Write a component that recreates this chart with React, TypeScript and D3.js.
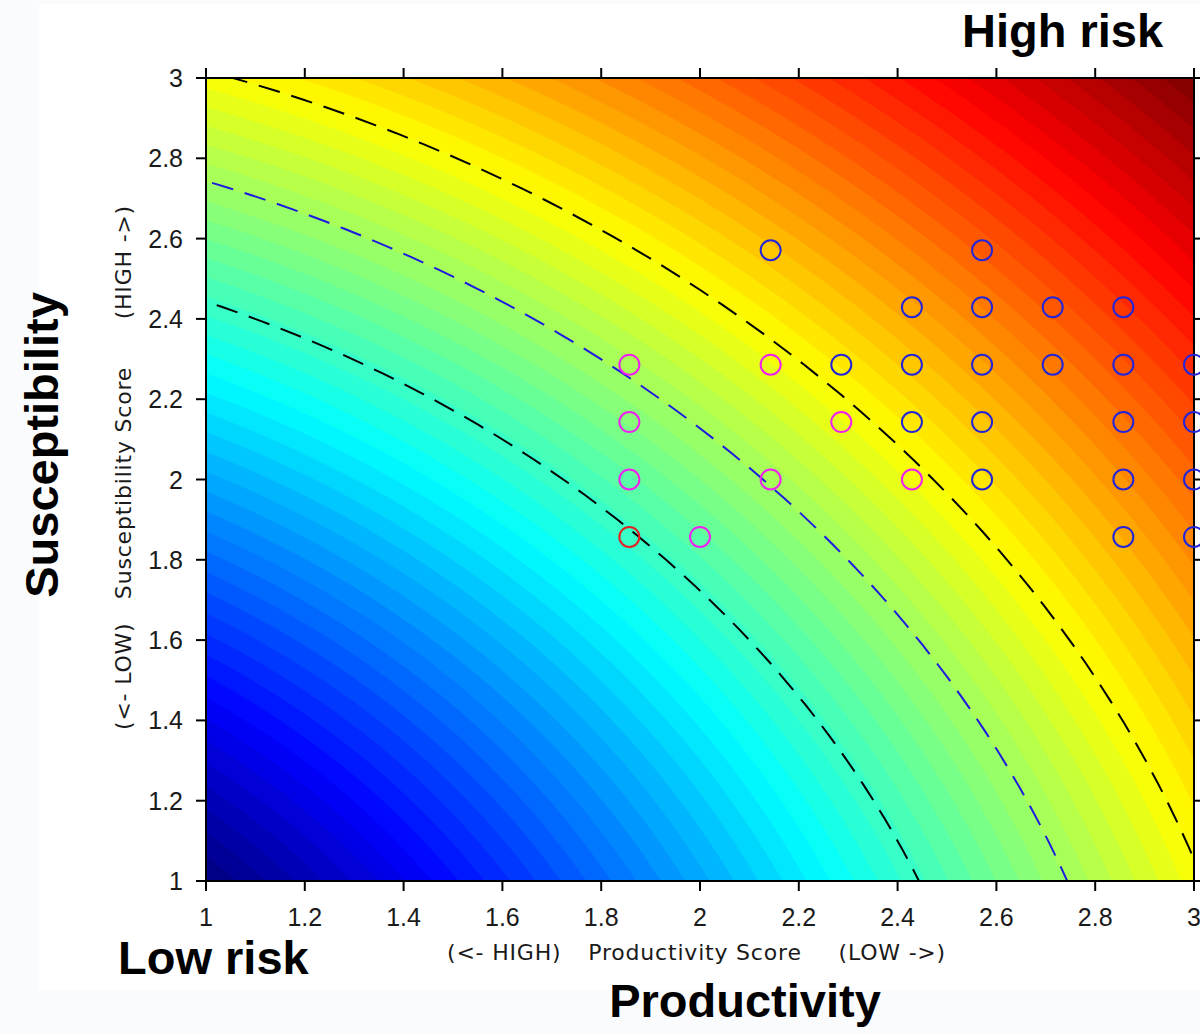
import React, { useMemo } from "react";
import * as d3 from "d3";

// ---- data ----
const xTicks = [1, 1.2, 1.4, 1.6, 1.8, 2, 2.2, 2.4, 2.6, 2.8, 3];
const yTicks = [1, 1.2, 1.4, 1.6, 1.8, 2, 2.2, 2.4, 2.6, 2.8, 3];
const xTickLabels = ["1", "1.2", "1.4", "1.6", "1.8", "2", "2.2", "2.4", "2.6", "2.8", "3"];
const yTickLabels = ["1", "1.2", "1.4", "1.6", "1.8", "2", "2.2", "2.4", "2.6", "2.8", "3"];

// contour levels (distance from origin)
const contourLevels = [2.64, 2.92, 3.18];
const contourColors = ["#000000", "#1c1ce0", "#000000"];

// stocks (productivity, susceptibility)
const blueX = [2.143, 2.571, 2.429, 2.571, 2.714, 2.857, 2.286, 2.429, 2.571, 2.714, 2.857, 3.0, 2.429, 2.571, 2.857, 3.0, 2.571, 2.857, 3.0, 2.857, 3.0];
const blueY = [2.571, 2.571, 2.429, 2.429, 2.429, 2.429, 2.286, 2.286, 2.286, 2.286, 2.286, 2.286, 2.143, 2.143, 2.143, 2.143, 2.0, 2.0, 2.0, 1.857, 1.857];
const magentaX = [1.857, 2.143, 1.857, 2.286, 1.857, 2.143, 2.429, 2.0];
const magentaY = [2.286, 2.286, 2.143, 2.143, 2.0, 2.0, 2.0, 1.857];
const redX = [1.857];
const redY = [1.857];

const nLevels = 64;

function jet(t: number): string {
  const c = (v: number) => Math.round(255 * Math.max(0, Math.min(1, v)));
  const r = c(1.5 - Math.abs(4 * t - 3));
  const g = c(1.5 - Math.abs(4 * t - 2));
  const b = c(1.5 - Math.abs(4 * t - 1));
  return `rgb(${r},${g},${b})`;
}

export default function App() {
  const W = 1200;
  const H = 1034;
  const x = d3.scaleLinear().domain([1, 3]).range([206, 1194]);
  const y = d3.scaleLinear().domain([1, 3]).range([881, 78]);
  const rMin = Math.hypot(1, 1);
  const rMax = Math.hypot(3, 3);
  const tScale = d3.scaleLinear().domain([rMin, rMax]).range([0, 1]);

  const bands = useMemo(() => {
    const arr: { r: number; color: string }[] = [];
    for (let k = nLevels - 1; k >= 0; k--) {
      const rOuter = tScale.invert((k + 1) / nLevels);
      arr.push({ r: rOuter, color: jet((k + 0.5) / nLevels) });
    }
    return arr;
  }, []);

  const cx = x(0);
  const cy = y(0);
  const line = d3
    .line<number[]>()
    .x((d) => x(d[0]))
    .y((d) => y(d[1]));
  const contourPath = (r: number) =>
    line(d3.range(0, 91).map((a) => [r * Math.cos((a * Math.PI) / 180), r * Math.sin((a * Math.PI) / 180)]));

  if (typeof document !== "undefined") document.body.style.margin = "0";

  const tickFont = "'Liberation Sans', Arial, sans-serif";
  const labelFont = "'DejaVu Sans', Verdana, sans-serif";
  const boldFont = "'Liberation Sans', Arial, sans-serif";
  const plotL = x(1), plotR = x(3), plotT = y(3), plotB = y(1);

  const circles = (xs: number[], ys: number[], color: string, key: string) =>
    xs.map((v, i) => (
      <circle key={key + i} cx={x(v)} cy={y(ys[i])} r={10} fill="none" stroke={color} strokeWidth={2} />
    ));

  return (
    <svg width={W} height={H} style={{ display: "block", position: "absolute", left: 0, top: 0 }}>
      <rect x={0} y={0} width={W} height={H} fill="#fafbfd" />
      <rect x={39} y={4} width={W - 39} height={986} fill="#ffffff" />
      <defs>
        <clipPath id="plotClip">
          <rect x={plotL} y={plotT} width={plotR - plotL} height={plotB - plotT} />
        </clipPath>
      </defs>
      <g clipPath="url(#plotClip)">
        <rect x={plotL} y={plotT} width={plotR - plotL} height={plotB - plotT} fill={jet((nLevels - 0.5) / nLevels)} />
        {bands.map((b, i) => (
          <ellipse key={i} cx={cx} cy={cy} rx={x(b.r) - cx} ry={cy - y(b.r)} fill={b.color} />
        ))}
        {contourLevels.map((r, i) => (
          <path key={i} d={contourPath(r) || ""} fill="none" stroke={contourColors[i]} strokeWidth={2} strokeDasharray="22,12" />
        ))}
      </g>
      {/* frame */}
      <rect x={plotL} y={plotT} width={plotR - plotL} height={plotB - plotT} fill="none" stroke="#000" strokeWidth={2} />
      {/* ticks */}
      {xTicks.map((t, i) => (
        <g key={"xt" + i}>
          <line x1={x(t)} x2={x(t)} y1={plotB} y2={plotB + 10} stroke="#000" strokeWidth={2} />
          <line x1={x(t)} x2={x(t)} y1={plotT} y2={plotT - 10} stroke="#000" strokeWidth={2} />
          <text x={x(t)} y={926} textAnchor="middle" fontFamily={tickFont} fontSize={25} fill="#1a1a1a">
            {xTickLabels[i]}
          </text>
        </g>
      ))}
      {yTicks.map((t, i) => (
        <g key={"yt" + i}>
          <line x1={plotL} x2={plotL - 10} y1={y(t)} y2={y(t)} stroke="#000" strokeWidth={2} />
          <line x1={plotR} x2={plotR + 10} y1={y(t)} y2={y(t)} stroke="#000" strokeWidth={2} />
          <text x={183} y={y(t) + 9} textAnchor="end" fontFamily={tickFont} fontSize={25} fill="#1a1a1a">
            {yTickLabels[i]}
          </text>
        </g>
      ))}
      {/* points */}
      {circles(blueX, blueY, "#2424d8", "b")}
      {circles(magentaX, magentaY, "#f020f0", "m")}
      {circles(redX, redY, "#e42020", "r")}
      {/* axis labels */}
      <g fontFamily={labelFont} fontSize={22} fill="#1a1a1a" letterSpacing={0.8}>
        <text x={447} y={960} textAnchor="start">(&lt;- HIGH)</text>
        <text x={695} y={960} textAnchor="middle">Productivity Score</text>
        <text x={946} y={960} textAnchor="end">(LOW -&gt;)</text>
      </g>
      <g fontFamily={labelFont} fontSize={22} fill="#1a1a1a" letterSpacing={0.8}>
        <text transform="translate(131,730) rotate(-90)" textAnchor="start">(&lt;- LOW)</text>
        <text transform="translate(131,483) rotate(-90)" textAnchor="middle">Susceptibility Score</text>
        <text transform="translate(131,205) rotate(-90)" textAnchor="end">(HIGH -&gt;)</text>
      </g>
      {/* big labels */}
      <g fontFamily={boldFont} fontWeight="bold" fontSize={47} fill="#000">
        <text x={962} y={47}>High risk</text>
        <text x={118} y={974}>Low risk</text>
        <text x={745} y={1017} textAnchor="middle">Productivity</text>
        <text transform="translate(58,445) rotate(-90)" textAnchor="middle">Susceptibility</text>
      </g>
    </svg>
  );
}
